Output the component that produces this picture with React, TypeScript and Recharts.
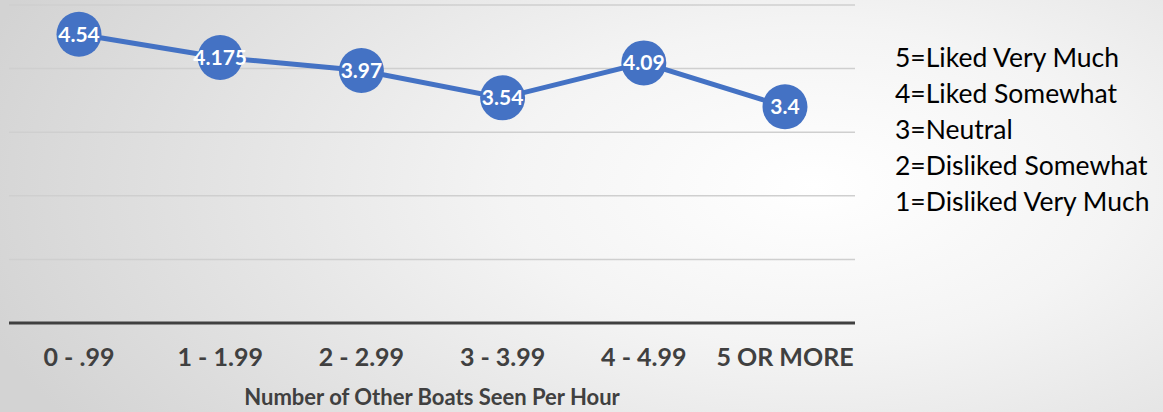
import { LineChart, Line, XAxis, YAxis, CartesianGrid, LabelList } from "recharts";

const categories = ["0 - .99", "1 - 1.99", "2 - 2.99", "3 - 3.99", "4 - 4.99", "5 OR MORE"];
const ratings = [4.54, 4.175, 3.97, 3.54, 4.09, 3.4];
const yTicks = [0, 1, 2, 3, 4, 5];
const legendLines = [
  "5=Liked Very Much",
  "4=Liked Somewhat",
  "3=Neutral",
  "2=Disliked Somewhat",
  "1=Disliked Very Much",
];

const data = categories.map((c, i) => ({ cat: c, rating: ratings[i] }));

const FONT = "Lato, 'Open Sans', sans-serif";
const BLUE = "#4472C4";

export default function App() {
  return (
    <div
      style={{
        position: "absolute",
        top: 0,
        left: 0,
        width: 1163,
        height: 412,
        overflow: "hidden",
        background: "radial-gradient(ellipse 75% 110% at 70% 45%, #ffffff 0%, #f4f4f4 35%, #d3d3d3 100%)",
        fontFamily: FONT,
      }}
    >
      <LineChart
        width={1163}
        height={412}
        data={data}
        margin={{ top: 5, right: 308, left: 9, bottom: 0 }}
      >
        <CartesianGrid vertical={false} stroke="#cfcfcf" strokeWidth={1.5} />
        <YAxis hide domain={[0, 5]} ticks={yTicks} />
        <XAxis
          dataKey="cat"
          height={89}
          padding={{ left: 70, right: 70 }}
          axisLine={{ stroke: "#404040", strokeWidth: 3 }}
          tickLine={false}
          tick={{ fill: "#404040", fontSize: 25, fontWeight: 700, fontFamily: FONT }}
          dy={17}
          label={{
            value: "Number of Other Boats Seen Per Hour",
            position: "insideBottom",
            offset: 7,
            fill: "#404040",
            fontSize: 22,
            fontWeight: 700,
            fontFamily: FONT,
          }}
        />
        <Line
          type="linear"
          dataKey="rating"
          stroke={BLUE}
          strokeWidth={5}
          dot={{ r: 22.5, fill: BLUE, stroke: "none" }}
          activeDot={false}
          isAnimationActive={false}
        >
          <LabelList
            dataKey="rating"
            position="center"
            fill="#ffffff"
            fontSize={21}
            fontWeight={700}
            fontFamily={FONT}
          />
        </Line>
      </LineChart>
      <div
        style={{
          position: "absolute",
          left: 895,
          top: 39,
          fontSize: 26.5,
          lineHeight: "36px",
          color: "#000",
          fontFamily: FONT,
          whiteSpace: "nowrap",
        }}
      >
        {legendLines.map((l) => (
          <div key={l}>{l}</div>
        ))}
      </div>
    </div>
  );
}
